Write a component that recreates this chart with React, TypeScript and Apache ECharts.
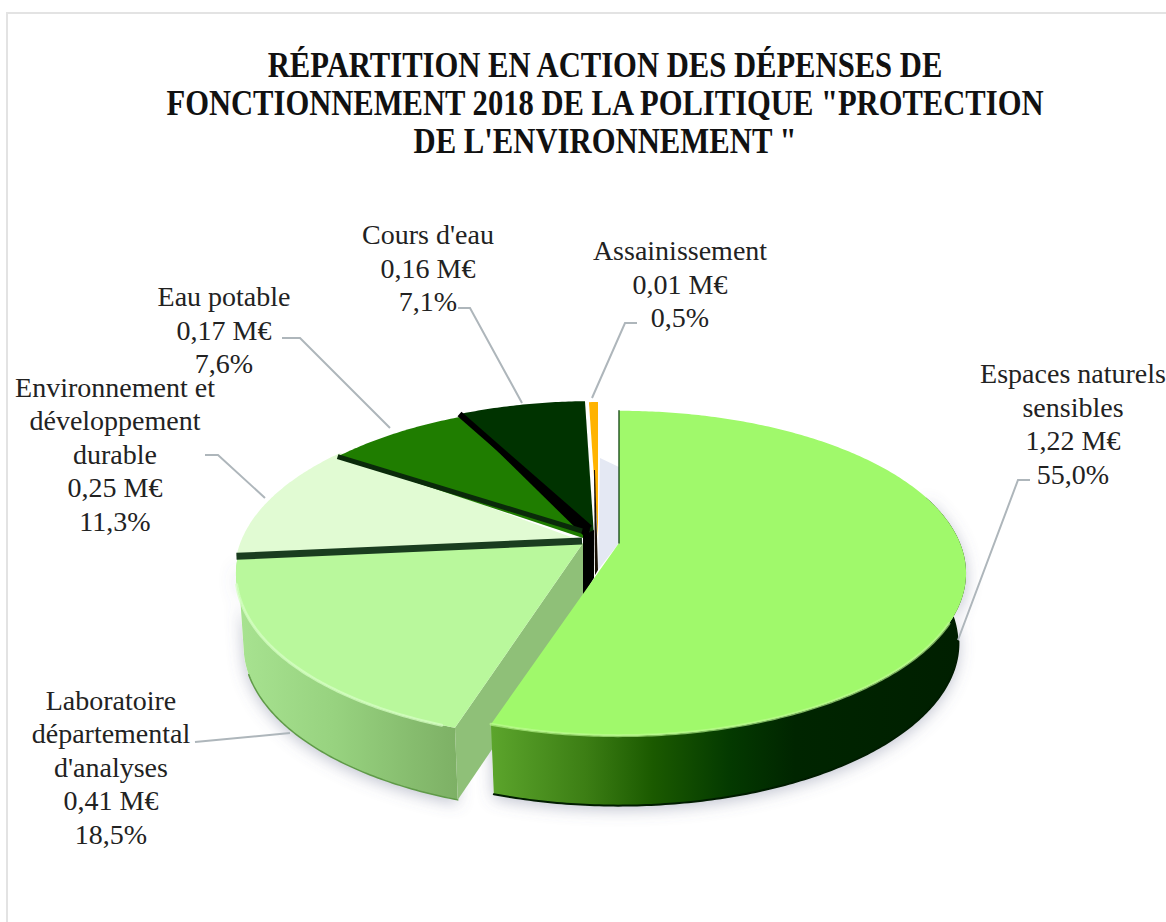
import React, { useEffect, useRef } from "react";
import * as echarts from "echarts";

const titleLines = [
  "RÉPARTITION EN ACTION DES DÉPENSES DE",
  'FONCTIONNEMENT 2018 DE LA POLITIQUE "PROTECTION',
  "DE L'ENVIRONNEMENT \"",
];
const categories = [
  "Espaces naturels\nsensibles",
  "Laboratoire\ndépartemental\nd'analyses",
  "Environnement et\ndéveloppement\ndurable",
  "Eau potable",
  "Cours d'eau",
  "Assainissement",
];
const amounts = ["1,22 M€", "0,41 M€", "0,25 M€", "0,17 M€", "0,16 M€", "0,01 M€"];
const shares = [55.0, 18.5, 11.3, 7.6, 7.1, 0.5];
const topColors = ["#a0f96b", "#b9f89c", "#e1fbd3", "#1f7d00", "#003300", "#ffb300"];
const separatorColors = ["", "", "#1a3d1f", "#0a2a0a", "#000000", ""];
const separatorWidths = [0, 0, 7, 5, 6, 0];
const separatorEnds = [[], [], [582, 541], [582, 531], [590, 528], []];
const offsets = [[36, 0], [0, 0], [-1, -2], [6, -3], [11, -7], [15, -6]];
const verticalScales = [0.98, 1, 1, 1, 1, 1];
const zLevels = [30, 10, 12, 14, 16, 18];

const labelAnchors = [
  [1073, 424], [111, 767], [115, 454], [224, 330], [428, 268], [680, 284],
];
const leaders = [
  [[1030, 480], [1018, 480], [958, 640]],
  [[195, 742], [290, 733]],
  [[205, 455], [218, 455], [265, 498]],
  [[282, 338], [300, 338], [390, 428]],
  [[458, 308], [470, 308], [522, 403]],
  [[637, 323], [625, 323], [592, 398]],
];

const CX = 583, CY = 543, R = 341, S = 160, B = 0.186, H = 72, SHRINK = 0.978;
const total = shares.reduce((a, b) => a + b, 0);
const startAngle = (i: number) => (shares.slice(0, i).reduce((a, b) => a + b, 0) / total) * 360;

function rim(deg: number, i: number): number[] {
  const [ox, oy] = offsets[i];
  const t = (deg * Math.PI) / 180;
  const u = Math.sin(t), v = -Math.cos(t), d = 1 - B * v;
  return [CX + ox + (R * u) / d, CY + oy + (S * verticalScales[i] * v) / d];
}
function low(p: number[], i: number, h: number = H): number[] {
  const ox = offsets[i][0];
  return [CX + ox + (p[0] - CX - ox) * SHRINK, p[1] + h];
}
function arc(a: number, b: number, i: number): number[][] {
  const n = Math.max(2, Math.ceil(Math.abs(b - a) * 1.5));
  const out: number[][] = [];
  for (let k = 0; k <= n; k++) out.push(rim(a + ((b - a) * k) / n, i));
  return out;
}
const grad = (stops: [number, string][]) => ({
  type: "linear", x: 0, y: 0, x2: 1, y2: 0,
  colorStops: stops.map(([offset, color]) => ({ offset, color })),
});
const poly = (points: number[][], fill: any, z2: number, extra: any = {}) => ({
  type: "polygon", shape: { points }, z2, silent: true, style: { fill, ...extra },
});
const line = (points: number[][], stroke: string, lineWidth: number, z2: number, extra: any = {}) => ({
  type: "polyline", shape: { points }, z2, silent: true,
  style: { stroke, lineWidth, fill: "none", lineJoin: "round", lineCap: "round", ...extra },
});

function renderSlice(params: any, api: any) {
  const i = params.dataIndex;
  const [ox, oy] = offsets[i];
  const a0 = startAngle(i);
  const a1 = a0 + (api.value(0) / total) * 360;
  const apex = [CX + ox, CY + oy];
  const z = zLevels[i];
  const children: any[] = [];
  const shadowStyle = {
    shadowBlur: 16, shadowColor: "rgba(95,105,135,0.40)", shadowOffsetY: 4,
  };
  if (i === 0) {
    const wallTop = arc(72, a1, i);
    const wallLow = wallTop.map((p) => low(p, i, 70)).reverse();
    children.push(poly([...wallTop, ...wallLow], "#ffffff", 1, shadowStyle));
    children.push(poly([...wallTop, ...wallLow], grad([
      [0, "#5ca52c"], [0.2, "#3c7e14"], [0.34, "#1b5a00"], [0.5, "#043a00"], [0.64, "#002500"], [1, "#001f00"],
    ]), z));
    children.push(poly([apex, ...arc(a0, a1, i)], topColors[i], z + 2));
    children.push(line(arc(118, a1, i), "#bdfc90", 3, z + 3, { opacity: 0.65 }));
    children.push(line(arc(100, a1, i).map((p) => low(p, i, 70)), "#001c00", 2, z + 1));
    children.push(line([rim(0, i), apex], "#1e4f1e", 1.4, z + 3));
    children.push(poly([[598, 570], [619, 543], [619, 467], [600, 458]], "#e4e8f3", 5));
    children.push(poly([[583, 535], [594, 530], [594, 578], [583, 596]], "#000000", 24));
  } else if (i === 1) {
    const wallTop = arc(a0, a1, i);
    const wallLow = arc(a0, a1 - 8, i).map((p) => low(p, i)).reverse();
    children.push(poly([...wallTop, ...wallLow], "#ffffff", 1, shadowStyle));
    children.push(poly([...wallTop, ...wallLow], grad([
      [0, "#a8e391"], [0.45, "#97d27f"], [0.8, "#86bc6e"], [1, "#7db065"],
    ]), z));
    const corner = wallTop[0];
    children.push(poly([corner, low(corner, i), [apex[0], apex[1] + H], apex], "#8fc078", z + 1));
    children.push(poly([apex, ...arc(a0, a1, i)], topColors[i], z + 2));
    children.push(line(arc(a0 + 2, a1 - 9, i), "#d6ffc3", 3, z + 3, { opacity: 0.75 }));
    children.push(line(arc(a0, a1 - 15, i).map((p) => low(p, i)), "#5f9a48", 1.5, z + 1));
  } else {
    const overlap = i < 4 ? 2.5 : 0;
    children.push(poly([apex, ...arc(a0, a1 + overlap, i)], topColors[i], z));
    if (separatorColors[i]) {
      children.push(line([rim(a0, i), separatorEnds[i]], separatorColors[i], separatorWidths[i], 22, { lineCap: "butt" }));
    }
    if (i === 4) {
      children.push(poly([rim(a0, i), [590, 526], [589, 541]], "#000000", 21));
    }
    if (i === 5) {
      children.push(poly([[594, 470], [595, 470], [598, 570], [595, 575]], "#1a1208", 23));
    }
  }
  return { type: "group", children };
}

export default function App() {
  const ref = useRef<HTMLDivElement>(null);
  useEffect(() => {
    const chart = echarts.init(ref.current!, null, { renderer: "svg" });
    const titleScale = [0.875, 0.874, 0.877];
    const graphics: any[] = [
      { type: "rect", shape: { x: 7, y: 13, width: 1200, height: 950 }, silent: true,
        style: { fill: "none", stroke: "#e3e3e3", lineWidth: 2 } },
      ...titleLines.map((text, i) => ({
        type: "text", x: 605, y: 65 + i * 38, scaleX: titleScale[i], silent: true,
        style: {
          text, textAlign: "center", textVerticalAlign: "middle", fill: "#111111",
          font: 'bold 35px "Liberation Serif"',
        },
      })),
      ...categories.map((c, i) => ({
        type: "text", x: labelAnchors[i][0], y: labelAnchors[i][1], silent: true,
        style: {
          text: `${c}\n${amounts[i]}\n${shares[i].toFixed(1).replace(".", ",")}%`,
          textAlign: "center", textVerticalAlign: "middle", fill: "#222222",
          font: '28px "Liberation Serif"', lineHeight: 33.5,
        },
      })),
      ...leaders.map((points) => ({
        type: "polyline", shape: { points }, silent: true, z: 10,
        style: { stroke: "#aeb6bb", lineWidth: 2, fill: "none" },
      })),
    ];
    chart.setOption({
      animation: false,
      backgroundColor: "#ffffff",
      graphic: graphics,
      series: [{
        type: "custom",
        coordinateSystem: "none",
        renderItem: renderSlice,
        data: shares.map((v) => [v]),
        silent: true,
        z: 5,
      }],
    });
    return () => chart.dispose();
  }, []);
  return <div ref={ref} style={{ position: "fixed", left: 0, top: 0, width: 1166, height: 922 }} />;
}
